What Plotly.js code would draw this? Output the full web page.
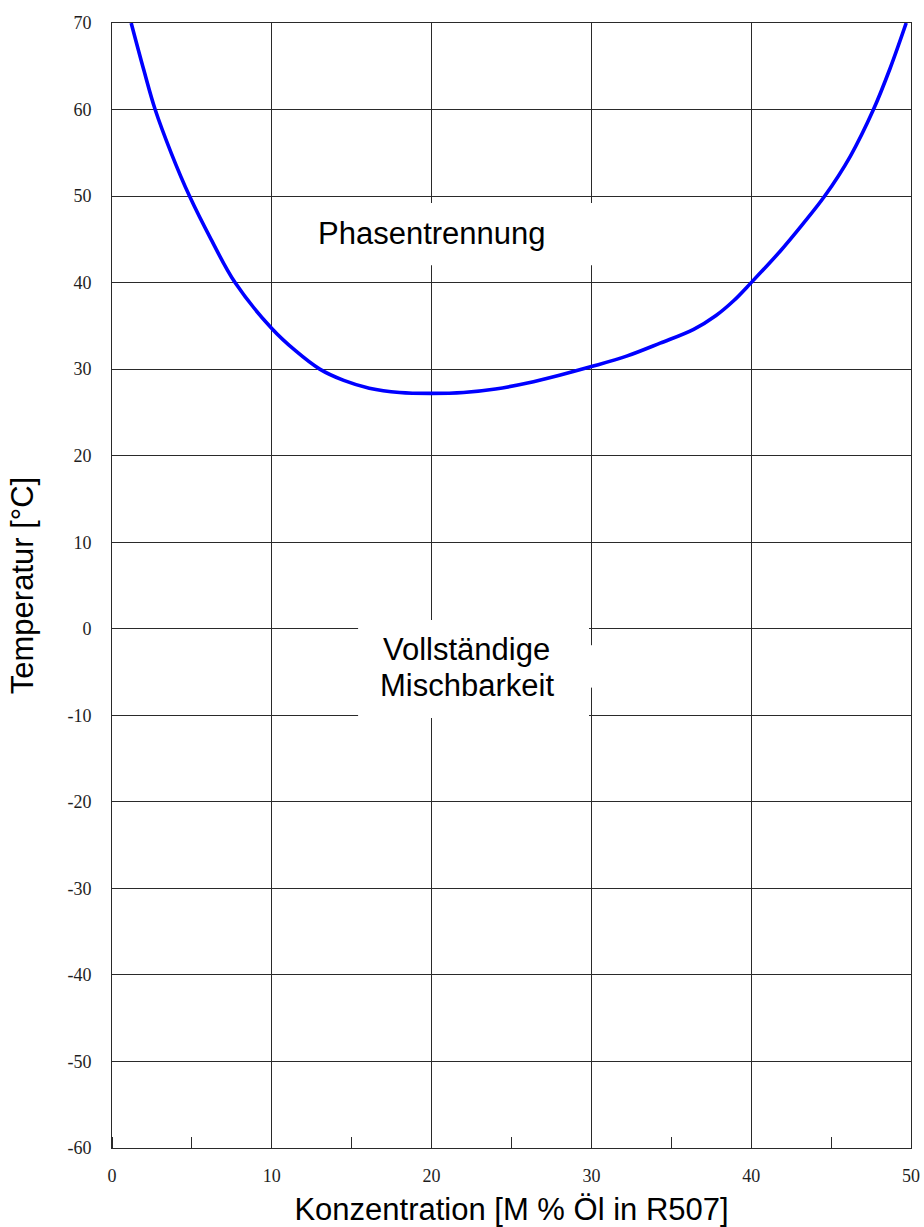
<!DOCTYPE html>
<html>
<head>
<meta charset="utf-8">
<script src="https://cdn.plot.ly/plotly-3.0.1.min.js"></script>
<style>html,body{margin:0;padding:0;background:#fff;}#chart{width:924px;height:1227px;}</style>
</head>
<body>
<div id="chart"></div>
<script>
// Data
const concentration = [1.2, 2.0, 2.7, 3.7, 4.85, 6.2, 7.7, 10, 11.5, 13, 14.5, 16.1, 18, 20, 22, 24, 26, 28, 30, 32.2, 34.3, 36.4, 37.8, 38.9, 40.0, 41.8, 43.2, 44.6, 46.2, 47.65, 48.7, 49.7];
const temperature   = [70, 64.5, 60, 55, 50, 45, 40, 34.7, 32.1, 30, 28.7, 27.8, 27.3, 27.2, 27.3, 27.7, 28.4, 29.3, 30.3, 31.5, 33.0, 34.6, 36.2, 37.9, 40, 43.6, 46.7, 50, 54.6, 60, 64.8, 70];
const xTicks = [0, 10, 20, 30, 40, 50];
const yTicks = [-60, -50, -40, -30, -20, -10, 0, 10, 20, 30, 40, 50, 60, 70];
const xTitle = "Konzentration [M % Öl in R507]";
const yTitle = "Temperatur [°C]";
const labelTop = "Phasentrennung";
const labelBottom1 = "Vollständige";
const labelBottom2 = "Mischbarkeit";

const gridColor = "#2a2a2a";
const tickFont = {family: "Liberation Serif, Times New Roman, serif", size: 18, color: "#1e1e1e"};
const bigFont = {family: "Liberation Sans, Arial, sans-serif", size: 31, color: "#000"};

const trace = {
  x: concentration, y: temperature, type: "scatter", mode: "lines",
  line: {color: "#0000ff", width: 3.6, shape: "spline", smoothing: 1.0},
  hoverinfo: "skip", showlegend: false
};

const layout = {
  width: 924, height: 1227,
  margin: {l: 112, r: 13, t: 23, b: 79},
  paper_bgcolor: "#fff", plot_bgcolor: "#fff",
  showlegend: false,
  xaxis: {
    range: [0, 50], tickvals: xTicks, ticktext: xTicks.map(String),
    showgrid: true, gridcolor: gridColor, gridwidth: 1,
    zeroline: false, showline: true, linecolor: gridColor, linewidth: 1, mirror: true,
    ticks: "", tickfont: tickFont, ticklabelstandoff: 11,
    minor: {dtick: 5, tick0: 0, ticks: "inside", ticklen: 11, tickcolor: gridColor, tickwidth: 1, showgrid: false},
    title: {text: xTitle, font: bigFont, standoff: 20},
    automargin: false, fixedrange: true
  },
  yaxis: {
    range: [-60, 70], tickvals: yTicks, ticktext: yTicks.map(String),
    showgrid: true, gridcolor: gridColor, gridwidth: 1,
    zeroline: false, showline: true, linecolor: gridColor, linewidth: 1, mirror: true,
    ticks: "", tickfont: tickFont, ticklabelstandoff: 16,
    title: {text: yTitle, font: bigFont, standoff: 24},
    automargin: false, fixedrange: true
  },
  shapes: [
    {type: "rect", xref: "x", yref: "y", x0: 12, x1: 31, y0: 42.0, y1: 49.2, fillcolor: "#fff", line: {width: 0}, layer: "between"},
    {type: "rect", xref: "x", yref: "y", x0: 15.4, x1: 29.85, y0: -10.3, y1: 1.0, fillcolor: "#fff", line: {width: 0}, layer: "between"},
    {type: "rect", xref: "x", yref: "y", x0: 29.8, x1: 30.3, y0: -6.8, y1: -1.9, fillcolor: "#fff", line: {width: 0}, layer: "between"}
  ],
  annotations: [
    {x: 20, y: 45.7, xref: "x", yref: "y", text: labelTop, showarrow: false, font: bigFont, xanchor: "center", yanchor: "middle"},
    {x: 22.2, y: -2.35, xref: "x", yref: "y", text: labelBottom1, showarrow: false, font: bigFont, xanchor: "center", yanchor: "middle"},
    {x: 22.2, y: -6.5, xref: "x", yref: "y", text: labelBottom2, showarrow: false, font: bigFont, xanchor: "center", yanchor: "middle"}
  ]
};

Plotly.newPlot("chart", [trace], layout, {staticPlot: true, displayModeBar: false});
</script>
</body>
</html>
